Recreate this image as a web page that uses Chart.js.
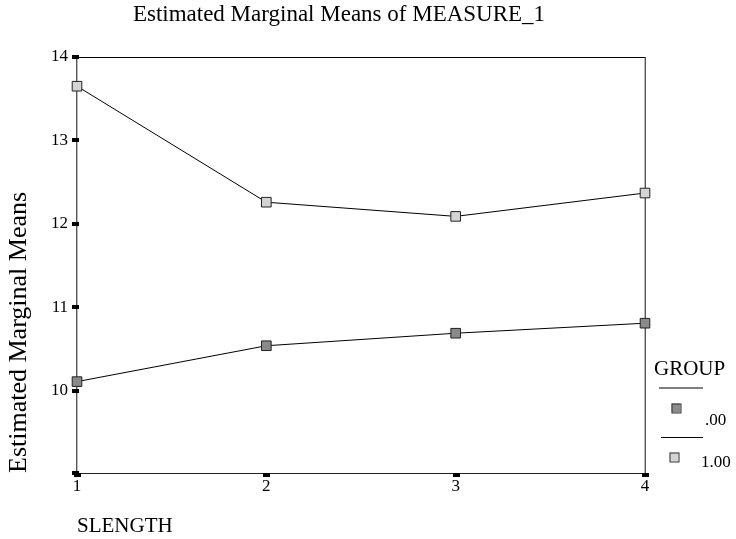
<!DOCTYPE html>
<html>
<head>
<meta charset="utf-8">
<script src="https://cdn.jsdelivr.net/npm/chart.js@4.4.1/dist/chart.umd.min.js"></script>
<style>
  html, body { margin: 0; padding: 0; background: #fff; }
  #wrap { width: 736px; height: 539px; }
</style>
</head>
<body>
<div id="wrap"><canvas id="chart"></canvas></div>
<script>
/* ── DATA ─────────────────────────────────────────────── */
const sLength    = [1, 2, 3, 4];
const group00    = [10.11, 10.54, 10.69, 10.81];
const group100   = [13.65, 12.26, 12.09, 12.37];
const yTicks     = [10, 11, 12, 13, 14];
const groupNames = [".00", "1.00"];

const SERIF = "'Liberation Serif', 'Times New Roman', serif";

/* ── FRAME, TICK MARKS, TITLE, LEGEND ─────────────────── */
const spssDecor = {
  id: "spssDecor",
  beforeDatasetsDraw(chart) {
    const { ctx, chartArea: a, scales: { x, y } } = chart;
    ctx.save();
    ctx.lineWidth = 1;
    ctx.strokeStyle = "#000";
    ctx.beginPath(); ctx.moveTo(a.left, a.top + 0.5); ctx.lineTo(a.right, a.top + 0.5); ctx.stroke();
    ctx.strokeStyle = "#222";
    ctx.beginPath(); ctx.moveTo(a.left, a.bottom + 0.5); ctx.lineTo(a.right, a.bottom + 0.5); ctx.stroke();
    ctx.lineWidth = 1.4;
    ctx.strokeStyle = "#555";
    ctx.beginPath(); ctx.moveTo(a.left - 0.3, a.top); ctx.lineTo(a.left - 0.3, a.bottom); ctx.stroke();
    ctx.beginPath(); ctx.moveTo(a.right + 0.3, a.top); ctx.lineTo(a.right + 0.3, a.bottom); ctx.stroke();

    // small square tick marks
    ctx.fillStyle = "#000";
    yTicks.concat([y.min]).forEach(v => {
      const py = Math.round(y.getPixelForValue(v));
      ctx.fillRect(a.left - 5, py - 2, 7, 4);
    });
    sLength.forEach(v => {
      const px = Math.round(x.getPixelForValue(v));
      ctx.fillRect(px - 3, a.bottom, 7, 4);
    });
    ctx.restore();
  },
  afterDraw(chart) {
    const { ctx } = chart;
    ctx.save();
    ctx.fillStyle = "#000";
    ctx.textBaseline = "alphabetic";

    // title
    ctx.font = `23px ${SERIF}`;
    ctx.textAlign = "center";
    ctx.fillText("Estimated Marginal Means of MEASURE_1", 339, 21);

    // legend
    ctx.textAlign = "left";
    ctx.font = `21px ${SERIF}`;
    ctx.fillText("GROUP", 654, 375);
    const rows = [
      { lineY: 388, lineX: 659, mx: 676, my: 408, tx: 705, ty: 425 },
      { lineY: 437.5, lineX: 661, mx: 674, my: 457, tx: 701, ty: 467 }
    ];
    chart.data.datasets.forEach((ds, i) => {
      const r = rows[i];
      ctx.strokeStyle = "#000";
      ctx.lineWidth = 1;
      ctx.beginPath(); ctx.moveTo(r.lineX, r.lineY); ctx.lineTo(703, r.lineY); ctx.stroke();
      ctx.fillStyle = ds.pointBackgroundColor;
      ctx.strokeStyle = "#333";
      ctx.fillRect(r.mx - 4.5, r.my - 4.5, 9, 9);
      ctx.strokeRect(r.mx - 4, r.my - 4, 9, 9);
      ctx.fillStyle = "#000";
      ctx.font = `17px ${SERIF}`;
      ctx.fillText(ds.label, r.tx, r.ty);
    });
    ctx.restore();
  }
};

/* ── CHART ────────────────────────────────────────────── */
const toPts = vals => sLength.map((s, i) => ({ x: s, y: vals[i] }));

new Chart(document.getElementById("chart"), {
  type: "line",
  data: {
    datasets: [
      {
        label: groupNames[0],
        data: toPts(group00),
        borderColor: "#000", borderWidth: 1,
        pointStyle: "rect", pointRadius: 6.8,
        pointBackgroundColor: "#8a8a8a", pointBorderColor: "#222", pointBorderWidth: 1,
        tension: 0, clip: false
      },
      {
        label: groupNames[1],
        data: toPts(group100),
        borderColor: "#000", borderWidth: 1,
        pointStyle: "rect", pointRadius: 6.8,
        pointBackgroundColor: "#d4d4d4", pointBorderColor: "#222", pointBorderWidth: 1,
        tension: 0, clip: false
      }
    ]
  },
  options: {
    responsive: true, maintainAspectRatio: false, animation: false,
    layout: { padding: { top: 57, right: 91, bottom: 0, left: 0 } },
    plugins: { legend: { display: false }, tooltip: { enabled: false } },
    scales: {
      x: {
        type: "linear", min: 1, max: 4,
        afterBuildTicks: s => { s.ticks = sLength.map(v => ({ value: v })); },
        afterFit: s => { s.height = 66; },
        grid: { display: false, drawTicks: false },
        border: { display: false },
        ticks: { color: "#000", padding: 3, maxRotation: 0, font: { family: SERIF, size: 17 } },
        title: {
          display: true, text: "SLENGTH", align: "start", color: "#000",
          font: { family: SERIF, size: 21, lineHeight: 1.1 }, padding: { top: 4, bottom: 1 }
        }
      },
      y: {
        min: 9.015, max: 14,
        afterBuildTicks: s => { s.ticks = yTicks.map(v => ({ value: v })); },
        afterFit: s => { s.width = 77; },
        grid: { display: false, drawTicks: false },
        border: { display: false },
        ticks: { color: "#000", padding: 9, font: { family: SERIF, size: 17 } },
        title: {
          display: true, text: "Estimated Marginal Means", align: "start", color: "#000",
          font: { family: SERIF, size: 26, lineHeight: 1.1 }, padding: { top: 5, bottom: 0 }
        }
      }
    }
  },
  plugins: [spssDecor]
});
</script>
</body>
</html>
